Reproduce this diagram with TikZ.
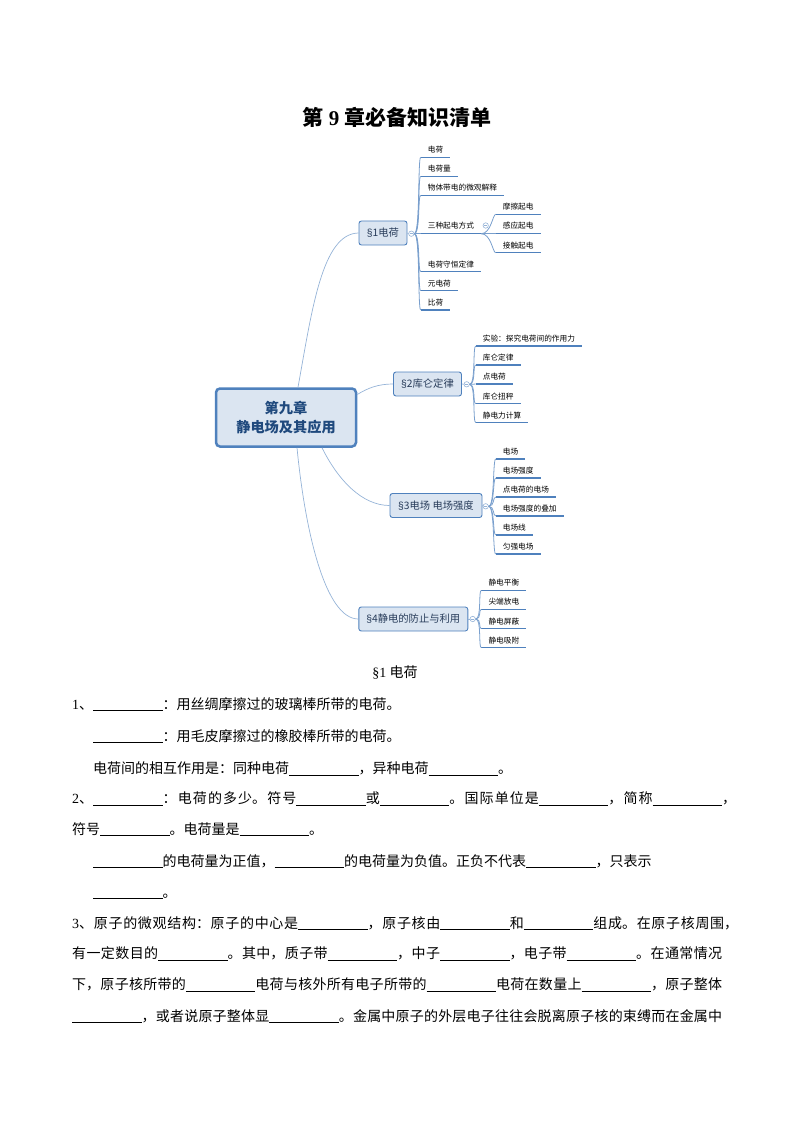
\documentclass[tikz,border=0pt]{standalone}
\usepackage{fontspec}
\usepackage{xcolor}
\setmainfont{Liberation Serif}
\newfontfamily\cjk{Noto Sans CJK SC}
\newfontfamily\lsans{Liberation Sans}
\XeTeXlinebreaklocale "zh"
\XeTeXlinebreakskip=0pt plus 2pt
\definecolor{bord}{RGB}{79, 129, 189}
\definecolor{fil}{RGB}{219, 229, 241}
\definecolor{hdr}{RGB}{31, 73, 125}
\definecolor{wire}{RGB}{149, 179, 215}
\definecolor{subt}{RGB}{40, 60, 90}
\newcommand{\fillin}{\rule[-2pt]{69.5pt}{0.6pt}}
\newcommand{\spread}[2]{\parbox[b]{#1pt}{\tolerance=9999\parfillskip=0pt\noindent #2}}
\tikzset{
  root/.style={draw=bord, fill=fil, line width=2.5pt, rounded corners=4pt, minimum width=140pt, minimum height=58pt, align=center, text=hdr, font=\cjk\bfseries\fontsize{14.2}{18.7}\selectfont},
  sec/.style={draw=bord, fill=fil, line width=0.9pt, rounded corners=2.5pt, minimum height=24pt, inner xsep=0pt, text=subt, font=\cjk\fontsize{10.3}{12}\selectfont},
  leaf/.style={anchor=south west, inner xsep=7pt, inner ysep=3pt, text height=7pt, text depth=1.5pt, font=\cjk\fontsize{7.67}{9}\selectfont, append after command={(\tikzlastnode.south west) edge[line width=1.2pt, draw=bord] (\tikzlastnode.south east)}},
  knob/.style={circle, draw=wire, fill=white, line width=0.6pt, inner sep=0pt, minimum size=5.4pt, path picture={\draw[wire, line width=0.5pt] ([xshift=-1.6pt]path picture bounding box.center)--([xshift=1.6pt]path picture bounding box.center);}},
  main/.style={draw=wire, line width=0.7pt},
  branch/.style={draw=wire!60!bord, line width=0.8pt, out=0, in=180, out distance=6pt, in distance=3pt},
  txt/.style={anchor=west, inner sep=0pt, text height=11pt, text depth=3pt, font=\cjk\fontsize{14}{16}\selectfont},
}
\begin{document}
\begin{tikzpicture}[x=1pt, y=-1pt]
  \useasboundingbox (0, 0) rectangle (794, 1123);
  \node(title) at (397, 117) {\cjk\bfseries\fontsize{21}{24}\selectfont 第 {\rmfamily 9} 章必备知识清单};

  \node(root)[root] at (286, 417.5) {第九章\\静电场及其应用};
  \node(s1)[sec, minimum width=48pt] at (383, 233) {{\lsans §}1电荷};
  \node(s2)[sec, minimum width=68pt] at (427.5, 384) {{\lsans §}2库仑定律};
  \node(s3)[sec, minimum width=92pt] at (436, 505.5) {{\lsans §}3电场 电场强度};
  \node(s4)[sec, minimum width=109pt] at (413.3, 619) {{\lsans §}4静电的防止与利用};

  \draw[main] ([xshift=12pt]root.north) .. controls (312, 310) and (322, 233.5) .. (s1.west);
  \draw[main] ([yshift=23pt]root.east) .. controls (368, 388) and (378, 384) .. (s2.west);
  \draw[main] ([xshift=36pt]root.south) .. controls (338, 480) and (362, 505.5) .. (s3.west);
  \draw[main] ([xshift=11pt]root.south) .. controls (305, 530) and (325, 619) .. (s4.west);

  \node(k1)[knob] at (411.3, 233.7) {};
  \node(k2)[knob] at (466.7, 384.3) {};
  \node(k3)[knob] at (485.7, 506.3) {};
  \node(k4)[knob] at (472.7, 619) {};
  \node(k5)[knob] at (485.7, 225.5) {};
  \draw[main] (s1.east)--(k1.west);
  \draw[main] (s2.east)--(k2.west);
  \draw[main] (s3.east)--(k3.west);
  \draw[main] (s4.east)--(k4.west);

  \node(a1)[leaf] at (420.7, 157.3) {电荷};
  \node(a2)[leaf] at (420.7, 176.3) {电荷量};
  \node(a3)[leaf] at (420.7, 195.3) {物体带电的微观解释};
  \node(a4)[leaf] at (420.7, 233.7) {三种起电方式};
  \node(a5)[leaf] at (420.7, 271.7) {电荷守恒定律};
  \node(a6)[leaf] at (420.7, 290.7) {元电荷};
  \node(a7)[leaf] at (420.7, 310) {比荷};
  \node(d1)[leaf] at (495.7, 214.3) {摩擦起电};
  \node(d2)[leaf] at (495.7, 233.7) {感应起电};
  \node(d3)[leaf] at (495.7, 252.7) {接触起电};
  \node(b1)[leaf] at (475.7, 346) {实验：探究电荷间的作用力};
  \node(b2)[leaf] at (475.7, 365) {库仑定律};
  \node(b3)[leaf] at (475.7, 384) {点电荷};
  \node(b4)[leaf] at (475.7, 403.7) {库仑扭秤};
  \node(b5)[leaf] at (475.7, 422.7) {静电力计算};
  \node(c1)[leaf] at (495.7, 459) {电场};
  \node(c2)[leaf] at (495.7, 478) {电场强度};
  \node(c3)[leaf] at (495.7, 497) {点电荷的电场};
  \node(c4)[leaf] at (495.7, 516) {电场强度的叠加};
  \node(c5)[leaf] at (495.7, 535) {电场线};
  \node(c6)[leaf] at (495.7, 554) {匀强电场};
  \node(e1)[leaf] at (481.3, 590.3) {静电平衡};
  \node(e2)[leaf] at (481.3, 609.3) {尖端放电};
  \node(e3)[leaf] at (481.3, 628.7) {静电屏蔽};
  \node(e4)[leaf] at (481.3, 647.7) {静电吸附};

  \draw[branch] (k1.east) to (a1.south west);
  \draw[branch] (k1.east) to (a2.south west);
  \draw[branch] (k1.east) to (a3.south west);
  \draw[branch] (k1.east) to (a4.south west);
  \draw[branch] (k1.east) to (a5.south west);
  \draw[branch] (k1.east) to (a6.south west);
  \draw[branch] (k1.east) to (a7.south west);
  \draw[branch, out distance=10pt] (a4.south east) to (d1.south west);
  \draw[branch, out distance=10pt] (a4.south east) to (d2.south west);
  \draw[branch, out distance=10pt] (a4.south east) to (d3.south west);
  \draw[branch] (k2.east) to (b1.south west);
  \draw[branch] (k2.east) to (b2.south west);
  \draw[branch] (k2.east) to (b3.south west);
  \draw[branch] (k2.east) to (b4.south west);
  \draw[branch] (k2.east) to (b5.south west);
  \draw[branch] (k3.east) to (c1.south west);
  \draw[branch] (k3.east) to (c2.south west);
  \draw[branch] (k3.east) to (c3.south west);
  \draw[branch] (k3.east) to (c4.south west);
  \draw[branch] (k3.east) to (c5.south west);
  \draw[branch] (k3.east) to (c6.south west);
  \draw[branch] (k4.east) to (e1.south west);
  \draw[branch] (k4.east) to (e2.south west);
  \draw[branch] (k4.east) to (e3.south west);
  \draw[branch] (k4.east) to (e4.south west);

  \node(h1)[txt, anchor=center] at (395, 673) {{\rmfamily §1} 电荷};
  \node(r1)[txt] at (72, 705) {{\rmfamily 1}、\fillin：用丝绸摩擦过的玻璃棒所带的电荷。};
  \node(r2)[txt] at (93, 737) {\fillin：用毛皮摩擦过的橡胶棒所带的电荷。};
  \node(r3)[txt] at (93, 769.5) {电荷间的相互作用是：同种电荷\fillin，异种电荷\fillin。};
  \node(r4)[txt] at (72, 799.5) {\spread{664}{{\rmfamily 2}、\fillin：电荷的多少。符号\fillin 或\fillin。国际单位是\fillin，简称\fillin，}};
  \node(r5)[txt] at (72, 830) {符号\fillin。电荷量是\fillin。};
  \node(r6)[txt] at (93, 862) {\fillin 的电荷量为正值，\fillin 的电荷量为负值。正负不代表\fillin，只表示};
  \node(r7)[txt] at (93, 893) {\fillin。};
  \node(r8)[txt] at (72, 924) {\spread{666}{{\rmfamily 3}、原子的微观结构：原子的中心是\fillin，原子核由\fillin 和\fillin 组成。在原子核周围，}};
  \node(r9)[txt] at (72, 954.7) {\spread{650}{有一定数目的\fillin。其中，质子带\fillin，中子\fillin，电子带\fillin。在通常情况}};
  \node(r10)[txt] at (72, 985.7) {\spread{650}{下，原子核所带的\fillin 电荷与核外所有电子所带的\fillin 电荷在数量上\fillin，原子整体}};
  \node(r11)[txt] at (72, 1017) {\spread{650}{\fillin，或者说原子整体显\fillin。金属中原子的外层电子往往会脱离原子核的束缚而在金属中}};
\end{tikzpicture}
\end{document}
